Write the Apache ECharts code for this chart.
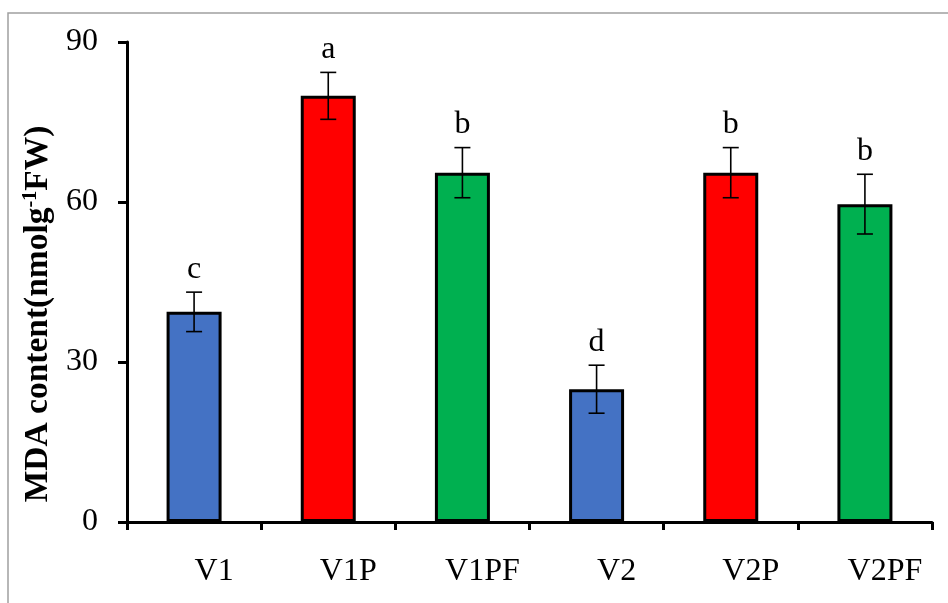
<!DOCTYPE html>
<html>
<head>
<meta charset="utf-8">
<script src="https://cdn.jsdelivr.net/npm/echarts@6/dist/echarts.min.js"></script>
<style>
  html, body { margin: 0; padding: 0; background: #fff; }
  #chart { width: 948px; height: 603px; }
</style>
</head>
<body>
<div id="chart"></div>
<script>
// MDA content by treatment
const categories = ['V1', 'V1P', 'V1PF', 'V2', 'V2P', 'V2PF'];
const mdaValues = [39.4, 79.9, 65.5, 24.9, 65.5, 59.6];
const mdaErrors = [3.7, 4.4, 4.7, 4.5, 4.7, 5.6];
const sigLetters = ['c', 'a', 'b', 'd', 'b', 'b'];
const barColors = ['#4472C4', '#FF0000', '#00B050', '#4472C4', '#FF0000', '#00B050'];
const yTicks = [0, 30, 60, 90];

const FONT = '"Liberation Serif", "Times New Roman", serif';

const chart = echarts.init(document.getElementById('chart'), null, { renderer: 'canvas' });

const errorData = mdaValues.map((v, i) => [i, v, mdaErrors[i], sigLetters[i]]);

chart.setOption({
  animation: false,
  backgroundColor: '#ffffff',
  grid: { left: 127, right: 16, top: 42, bottom: 81, containLabel: false },
  xAxis: {
    type: 'category',
    data: categories,
    boundaryGap: true,
    axisLine: { lineStyle: { color: '#000', width: 3 } },
    axisTick: { show: true, alignWithLabel: false, length: 8, lineStyle: { color: '#000', width: 3 } },
    axisLabel: {
      color: '#000', fontFamily: FONT, fontSize: 32, margin: 34,
      padding: [0, 0, 0, 40]
    }
  },
  yAxis: {
    type: 'value',
    min: 0, max: 90, interval: 30,
    axisLine: { show: true, lineStyle: { color: '#000', width: 3 } },
    axisTick: { show: true, length: 9, lineStyle: { color: '#000', width: 3 } },
    splitLine: { show: false },
    axisLabel: {
      color: '#000', fontFamily: FONT, fontSize: 32, margin: 29,
      formatter: v => (yTicks.indexOf(v) >= 0 ? String(v) : '')
    }
  },
  series: [
    {
      type: 'bar',
      barWidth: 55,
      data: mdaValues.map((v, i) => ({
        value: v,
        itemStyle: { color: barColors[i], borderColor: '#000', borderWidth: 3 }
      })),
      z: 2
    },
    {
      type: 'custom',
      data: errorData,
      z: 5,
      renderItem: function (params, api) {
        const i = api.value(0);
        const mean = api.value(1);
        const err = api.value(2);
        const top = api.coord([i, mean + err]);
        const bot = api.coord([i, mean - err]);
        const cap = 8;
        const style = { stroke: '#000', lineWidth: 1.6 };
        return {
          type: 'group',
          children: [
            { type: 'line', shape: { x1: top[0], y1: top[1], x2: bot[0], y2: bot[1] }, style },
            { type: 'line', shape: { x1: top[0] - cap, y1: top[1], x2: top[0] + cap, y2: top[1] }, style },
            { type: 'line', shape: { x1: bot[0] - cap, y1: bot[1], x2: bot[0] + cap, y2: bot[1] }, style },
            {
              type: 'text',
              style: {
                x: top[0], y: top[1] - 7,
                text: sigLetters[params.dataIndex],
                fill: '#000', font: '32px ' + FONT,
                textAlign: 'center', textVerticalAlign: 'bottom'
              }
            }
          ]
        };
      }
    }
  ],
  graphic: [
    {
      type: 'rect',
      shape: { x: 8, y: 13, width: 1000, height: 1000 },
      style: { fill: 'none', stroke: '#a0a0a0', lineWidth: 1.5 },
      silent: true
    },
    {
      type: 'text',
      x: 38, y: 314,
      rotation: Math.PI / 2,
      style: {
        text: '{t|MDA content(nmolg}{s|-1}{t|FW)}',
        textAlign: 'center',
        textVerticalAlign: 'middle',
        rich: {
          t: { fontFamily: FONT, fontWeight: 'bold', fontSize: 33.5, fill: '#000', verticalAlign: 'bottom' },
          s: { fontFamily: FONT, fontWeight: 'bold', fontSize: 20, fill: '#000', verticalAlign: 'top', padding: [0, 0, 15, 0] }
        }
      }
    }
  ]
});
</script>
</body>
</html>
